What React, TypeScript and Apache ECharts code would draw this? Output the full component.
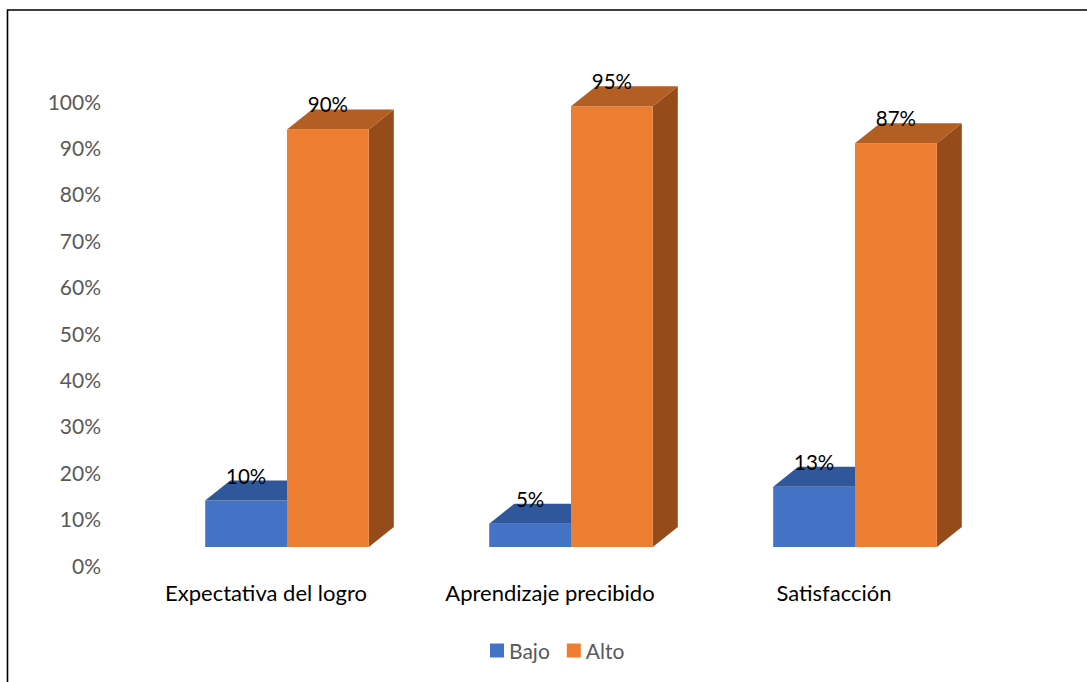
import React, { useEffect, useRef } from "react";
import * as echarts from "echarts";

const categories = ["Expectativa del logro", "Aprendizaje precibido", "Satisfacción"];
const bajoValues = [10, 5, 13];
const altoValues = [90, 95, 87];
const seriesNames = ["Bajo", "Alto"];

const FONT = "Lato, 'Noto Sans', sans-serif";
const BAR_RATIO = 0.288;
const LIFT = 18;
const DX = 25;
const DY = -20;

const makeRender = (side: number, front: string, top: string, sideCol: string) =>
  (params: any, api: any) => {
    const ci = api.value(0);
    const v = api.value(1);
    const base = api.coord([ci, 0]);
    const tp = api.coord([ci, v]);
    const band = api.size([1, 0])[0];
    const bw = band * BAR_RATIO;
    const x0 = side < 0 ? base[0] - bw : base[0];
    const x1 = x0 + bw;
    const yb = base[1] - LIFT;
    const yt = tp[1] - LIFT;
    return {
      type: "group",
      children: [
        {
          type: "polygon",
          shape: { points: [[x1, yt], [x1 + DX, yt + DY], [x1 + DX, yb + DY], [x1, yb]] },
          style: { fill: sideCol },
        },
        {
          type: "rect",
          shape: { x: x0, y: yt, width: bw, height: yb - yt },
          style: { fill: front },
        },
        {
          type: "polygon",
          shape: { points: [[x0, yt], [x0 + DX, yt + DY], [x1 + DX, yt + DY], [x1, yt]] },
          style: { fill: top },
        },
        {
          type: "text",
          x: (x0 + x1) / 2,
          y: yt + DY - 5,
          style: {
            text: v + "%",
            fill: "#000000",
            font: `20.5px ${FONT}`,
            align: "center",
            verticalAlign: "middle",
          },
        },
      ],
    };
  };

export default function App() {
  const ref = useRef<HTMLDivElement>(null);
  useEffect(() => {
    if (!ref.current) return;
    const chart = echarts.init(ref.current, undefined, { renderer: "svg" });
    chart.setOption({
      animation: false,
      backgroundColor: "#ffffff",
      textStyle: { fontFamily: FONT },
      graphic: [
        {
          type: "polyline",
          shape: { points: [[7.5, 682], [7.5, 10], [1087, 10]] },
          style: { stroke: "#000000", lineWidth: 1.6, fill: null },
        },
      ],
      grid: { left: 145, right: 90, top: 101, bottom: 117 },
      legend: {
        left: 485,
        top: 635,
        icon: "rect",
        itemWidth: 14,
        itemHeight: 14,
        itemGap: 17,
        textStyle: { color: "#595959", fontSize: 21, fontFamily: FONT },
        data: seriesNames,
      },
      xAxis: {
        type: "category",
        data: categories,
        axisLine: { show: false },
        axisTick: { show: false },
        axisLabel: {
          color: "#000000",
          fontSize: 22,
          fontFamily: FONT,
          margin: 16,
          padding: [0, 42, 0, 0],
        },
      },
      yAxis: {
        type: "value",
        min: 0,
        max: 100,
        interval: 10,
        splitLine: { show: false },
        axisLine: { show: false },
        axisTick: { show: false },
        axisLabel: {
          formatter: "{value}%",
          color: "#595959",
          fontSize: 21,
          fontFamily: FONT,
          margin: 44,
        },
      },
      series: [
        {
          name: seriesNames[0],
          type: "custom",
          itemStyle: { color: "#4472C4" },
          renderItem: makeRender(-1, "#4472C4", "#30579A", "#2A4C86"),
          data: bajoValues.map((v, i) => [i, v]),
        },
        {
          name: seriesNames[1],
          type: "custom",
          itemStyle: { color: "#ED7D31" },
          renderItem: makeRender(1, "#ED7D31", "#B35E22", "#964B1B"),
          data: altoValues.map((v, i) => [i, v]),
        },
      ],
    });
    return () => chart.dispose();
  }, []);
  return (
    <div
      ref={ref}
      style={{ position: "fixed", left: 0, top: 0, width: 1087, height: 682 }}
    />
  );
}
